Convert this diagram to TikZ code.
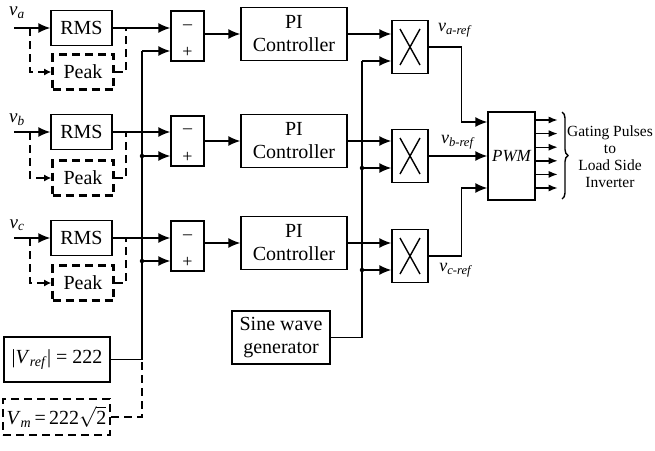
\documentclass[tikz,border=0pt]{standalone}
\usepackage{fontspec}
\setmainfont{Liberation Serif}
\usetikzlibrary{arrows.meta,decorations.pathreplacing,calc}
\begin{document}
\begin{tikzpicture}[x=1pt,y=-1pt,
  every node/.style={inner sep=0pt},
  blk/.style={draw,line width=1.4pt,align=center,font=\fontsize{20}{23}\selectfont},
  dblk/.style={blk,line width=2.6pt,dash pattern=on 8pt off 5pt},
  wire/.style={line width=1.4pt},
  dwire/.style={line width=2.6pt,dash pattern=on 8pt off 5pt},
  arr/.style={wire,-{Latex[length=12pt,width=10pt]}},
  darr/.style={dwire,-{Latex[length=7pt,width=7pt]}},
  oarr/.style={wire,-{Latex[length=9pt,width=7pt]}},
  dotn/.style={circle,fill,minimum size=4.5pt},
  lbl/.style={font=\fontsize{19}{19}\selectfont}
]
\useasboundingbox (0,0) rectangle (655,450);

\foreach \n/\ry/\py/\sy/\qy/\my in {a/28/72/36/34/47, b/132/178/141/141/156, c/238/283/246/243/256}{
  \node[blk,minimum width=61pt,minimum height=35pt] (rms\n) at (81.5,\ry) {RMS};
  \node[dblk,minimum width=61pt,minimum height=35pt] (pk\n) at (83,\py) {Peak};
  \node[blk,minimum width=33pt,minimum height=50pt] (sum\n) at (187.5,\sy) {};
  \node[font=\fontsize{18}{18}\selectfont] (mi\n) at (187.5,\ry-1) {–};
  \node[font=\fontsize{18}{18}\selectfont] (pl\n) at (187.5,\sy+16) {+};
  \node[blk,minimum width=106pt,minimum height=53pt] (pi\n) at (294,\qy) {PI\\Controller};
  \node[blk,minimum width=36pt,minimum height=53pt] (m\n) at (410,\my) {};
  \draw[wire] ($(m\n.center)+(-10,-18)$) -- ($(m\n.center)+(10,18)$);
  \draw[wire] ($(m\n.center)+(10,-18)$) -- ($(m\n.center)+(-10,18)$);
  \coordinate (in\n) at (14,\ry);
  \coordinate (br\n) at (30,\ry);
  \coordinate (jn\n) at (126,\ry);
  \coordinate (vb\n) at (142,\sy+15);
  \coordinate (sb\n) at (362,\qy+27);
  \draw[arr] (in\n) -- (rms\n.west);
  \draw[darr] (br\n) |- (pk\n.west);
  \draw[dwire] (pk\n.east) -| (jn\n);
  \draw[arr] (rms\n.east) -- (sum\n.west |- rms\n.east);
  \draw[arr] (vb\n) -- (sum\n.west |- vb\n);
  \draw[arr] (sum\n.east |- pi\n.west) -- (pi\n.west);
  \draw[arr] (pi\n.east) -- (m\n.west |- pi\n.east);
  \draw[arr] (sb\n) -- (m\n.west |- sb\n);
}

\node[lbl] (va) at (17,13) {\textit{v}\textsubscript{\textit{a}}};
\node[lbl] (vb) at (17,120) {\textit{v}\textsubscript{\textit{b}}};
\node[lbl] (vc) at (17,225) {\textit{v}\textsubscript{\textit{c}}};

% reference magnitude
\node[blk,minimum width=106pt,minimum height=45pt] (vref) at (57,359.5)
  {\textbar\textit{V}\textsubscript{\textit{ref}}\textbar\ = 222};
\node[dblk,minimum width=107pt,minimum height=36pt] (vm) at (56.5,417)
  {\textit{V}\textsubscript{\textit{m}}\,=\,222$\sqrt{\mbox{2}}$};
\coordinate (bus) at (vref.east -| vba);
\draw[wire] (vref.east) -- (bus) -- (vba);
\draw[dwire] (vm.east) -| (bus);
\node[dotn] at (vbb) {};
\node[dotn] at (vbc) {};

% sine generator
\node[blk,minimum width=98pt,minimum height=53pt] (sine) at (281,337.5) {Sine wave\\generator};
\draw[wire] (sine.east) -| (sba);
\node[dotn] at (sbb) {};
\node[dotn] at (sbc) {};

% PWM
\node[blk,minimum width=47pt,minimum height=88pt,font=\fontsize{17}{17}\selectfont\itshape] (pwm) at (511.5,156) {PWM};
\coordinate (pa) at ($(pwm.west)+(0,-34)$);
\coordinate (pc) at ($(pwm.west)+(0,32)$);
\draw[arr] (ma.east) -| ($(pa)+(-26,0)$) -- (pa);
\draw[arr] (mb.east) -- (pwm.west |- mb.east);
\draw[arr] (mc.east) -| ($(pc)+(-26,0)$) -- (pc);

\node[font=\fontsize{18}{18}\selectfont] (lra) at (455,30) {\textit{v}\textsubscript{\textit{a-ref}}};
\node[font=\fontsize{18}{18}\selectfont] (lrb) at (458,142) {\textit{v}\textsubscript{\textit{b-ref}}};
\node[font=\fontsize{18}{18}\selectfont] (lrc) at (456,270) {\textit{v}\textsubscript{\textit{c-ref}}};

\foreach \k in {0,...,5}{
  \draw[oarr] ($(pwm.east)+(0,-36+\k*13.6)$) -- ++(22,0);
}
\draw[wire,decorate,decoration={brace,amplitude=6pt}] (562,112) -- (562,199);
\node[font=\fontsize{15.5}{17}\selectfont,align=center] (gp) at (610,157) {Gating Pulses\\to\\Load Side\\Inverter};
\end{tikzpicture}
\end{document}
